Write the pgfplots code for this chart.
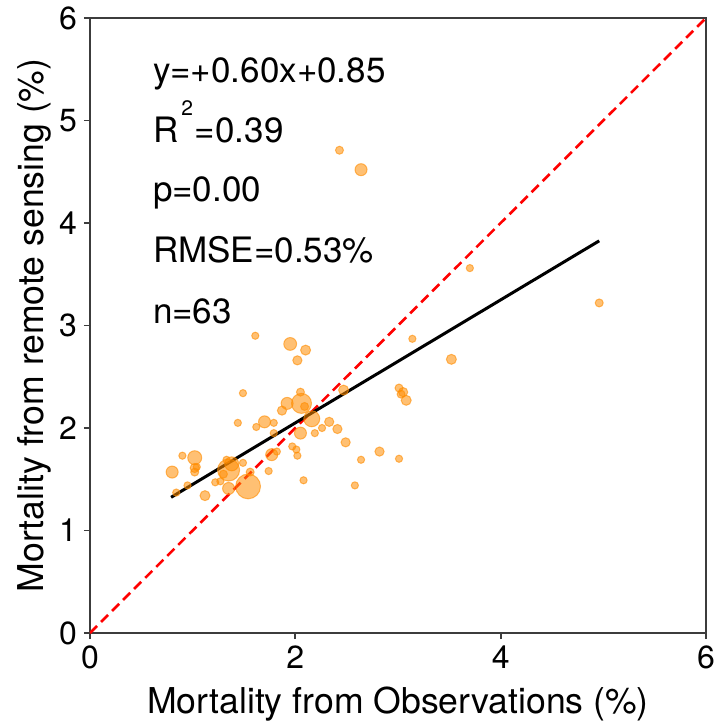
\documentclass[border=0pt]{standalone}
\usepackage{pgfplots}
\pgfplotsset{compat=1.18}
\usepackage{fontspec}
\setmainfont{TeX Gyre Heros}
\usetikzlibrary{calc}
\definecolor{myorange}{RGB}{255,140,0}
\definecolor{axgray}{RGB}{60,60,60}
\begin{document}
\begin{tikzpicture}
\begin{axis}[name=ax,
  scale only axis, width=308pt, height=307.5pt,
  xmin=0, xmax=6, ymin=0, ymax=6,
  xtick={0,2,4,6}, ytick={0,1,2,3,4,5,6},
  tick pos=left, tick align=outside,
  major tick length=3pt,
  axis line style={axgray, line width=0.9pt},
  every tick/.style={axgray, line width=0.9pt},
  /pgf/number format/assume math mode=true,
  ticklabel style={font=\fontsize{16}{18}\selectfont},
  xlabel={Mortality from Observations (\%)},
  ylabel={Mortality from remote sensing (\%)},
  label style={font=\fontsize{17.8}{20}\selectfont},
  xlabel style={yshift=-2pt},
  ylabel style={yshift=-3pt},
  clip=true,
]
\addplot[red, line width=1.3pt, dash pattern=on 5pt off 2.8pt, forget plot] coordinates {(0,0) (6,6)};
\addplot[scatter, only marks, mark=*,
  scatter/use mapped color={draw=myorange, fill=myorange},
  mark options={fill opacity=0.55, draw opacity=0.6, line width=0.5pt},
  visualization depends on={\thisrow{r} \as \rad},
  scatter/@pre marker code/.append style={/tikz/mark size=\rad pt},
] table {
x y r
2.43 4.71 2.0
2.64 4.52 3.0
3.70 3.56 1.8
4.96 3.22 2.0
3.14 2.87 1.8
3.52 2.67 2.5
1.95 2.82 3.2
2.10 2.76 2.5
2.02 2.66 2.3
2.47 2.37 2.5
3.01 2.39 2.0
3.05 2.35 2.3
3.08 2.27 2.5
3.03 2.33 2.0
2.05 2.35 2.0
2.06 2.24 5.0
1.92 2.24 3.0
1.87 2.17 2.3
2.16 2.09 4.0
2.09 2.21 2.0
2.05 1.95 3.0
2.19 1.95 1.8
2.26 2.00 1.8
2.33 2.06 2.3
2.41 1.99 2.3
2.49 1.86 2.3
2.82 1.77 2.3
3.01 1.70 1.8
2.64 1.69 1.8
1.97 1.82 1.8
2.01 1.79 1.8
2.02 1.73 1.8
2.08 1.49 1.8
2.58 1.44 1.8
1.79 2.05 1.8
1.79 1.95 1.8
1.77 1.74 3.0
1.82 1.77 1.8
1.61 2.90 1.8
1.49 2.34 1.8
1.70 2.06 3.0
1.62 2.01 1.8
1.44 2.05 1.8
1.74 1.58 1.8
1.02 1.71 3.5
0.90 1.73 1.8
1.02 1.61 2.3
1.02 1.57 2.0
0.80 1.57 3.0
0.95 1.44 1.8
1.12 1.34 2.5
0.84 1.37 1.8
1.35 1.59 5.5
1.54 1.43 6.2
1.49 1.66 1.8
1.56 1.57 2.0
1.22 1.47 1.8
1.27 1.48 1.8
1.35 1.41 3.0
1.33 1.69 1.8
1.38 1.65 3.5
1.30 1.55 2.0
1.04 1.62 1.8
};
\addplot[black, line width=1.5pt, forget plot] coordinates {(0.79,1.324) (4.96,3.826)};
\tikzset{ann/.style={anchor=base west, inner xsep=0pt, font=\fontsize{17.5}{20}\selectfont}}
\node[ann] at (axis cs:0.61,5.375) {y=+0.60x+0.85};
\node[ann] at (axis cs:0.61,4.79) {R\hspace{1.5pt}\raisebox{13.5pt}{\fontsize{10.5}{11}\selectfont 2}\hspace{1pt}=0.39};
\node[ann] at (axis cs:0.61,4.205) {p=0.00};
\node[ann] at (axis cs:0.61,3.61) {RMSE=0.53\%};
\node[ann] at (axis cs:0.61,3.02) {n=63};
\end{axis}
\pgfresetboundingbox
\path ($(ax.south west)+(-45pt,-47pt)$) rectangle ($(ax.north east)+(6pt,9pt)$);
\end{tikzpicture}
\end{document}
